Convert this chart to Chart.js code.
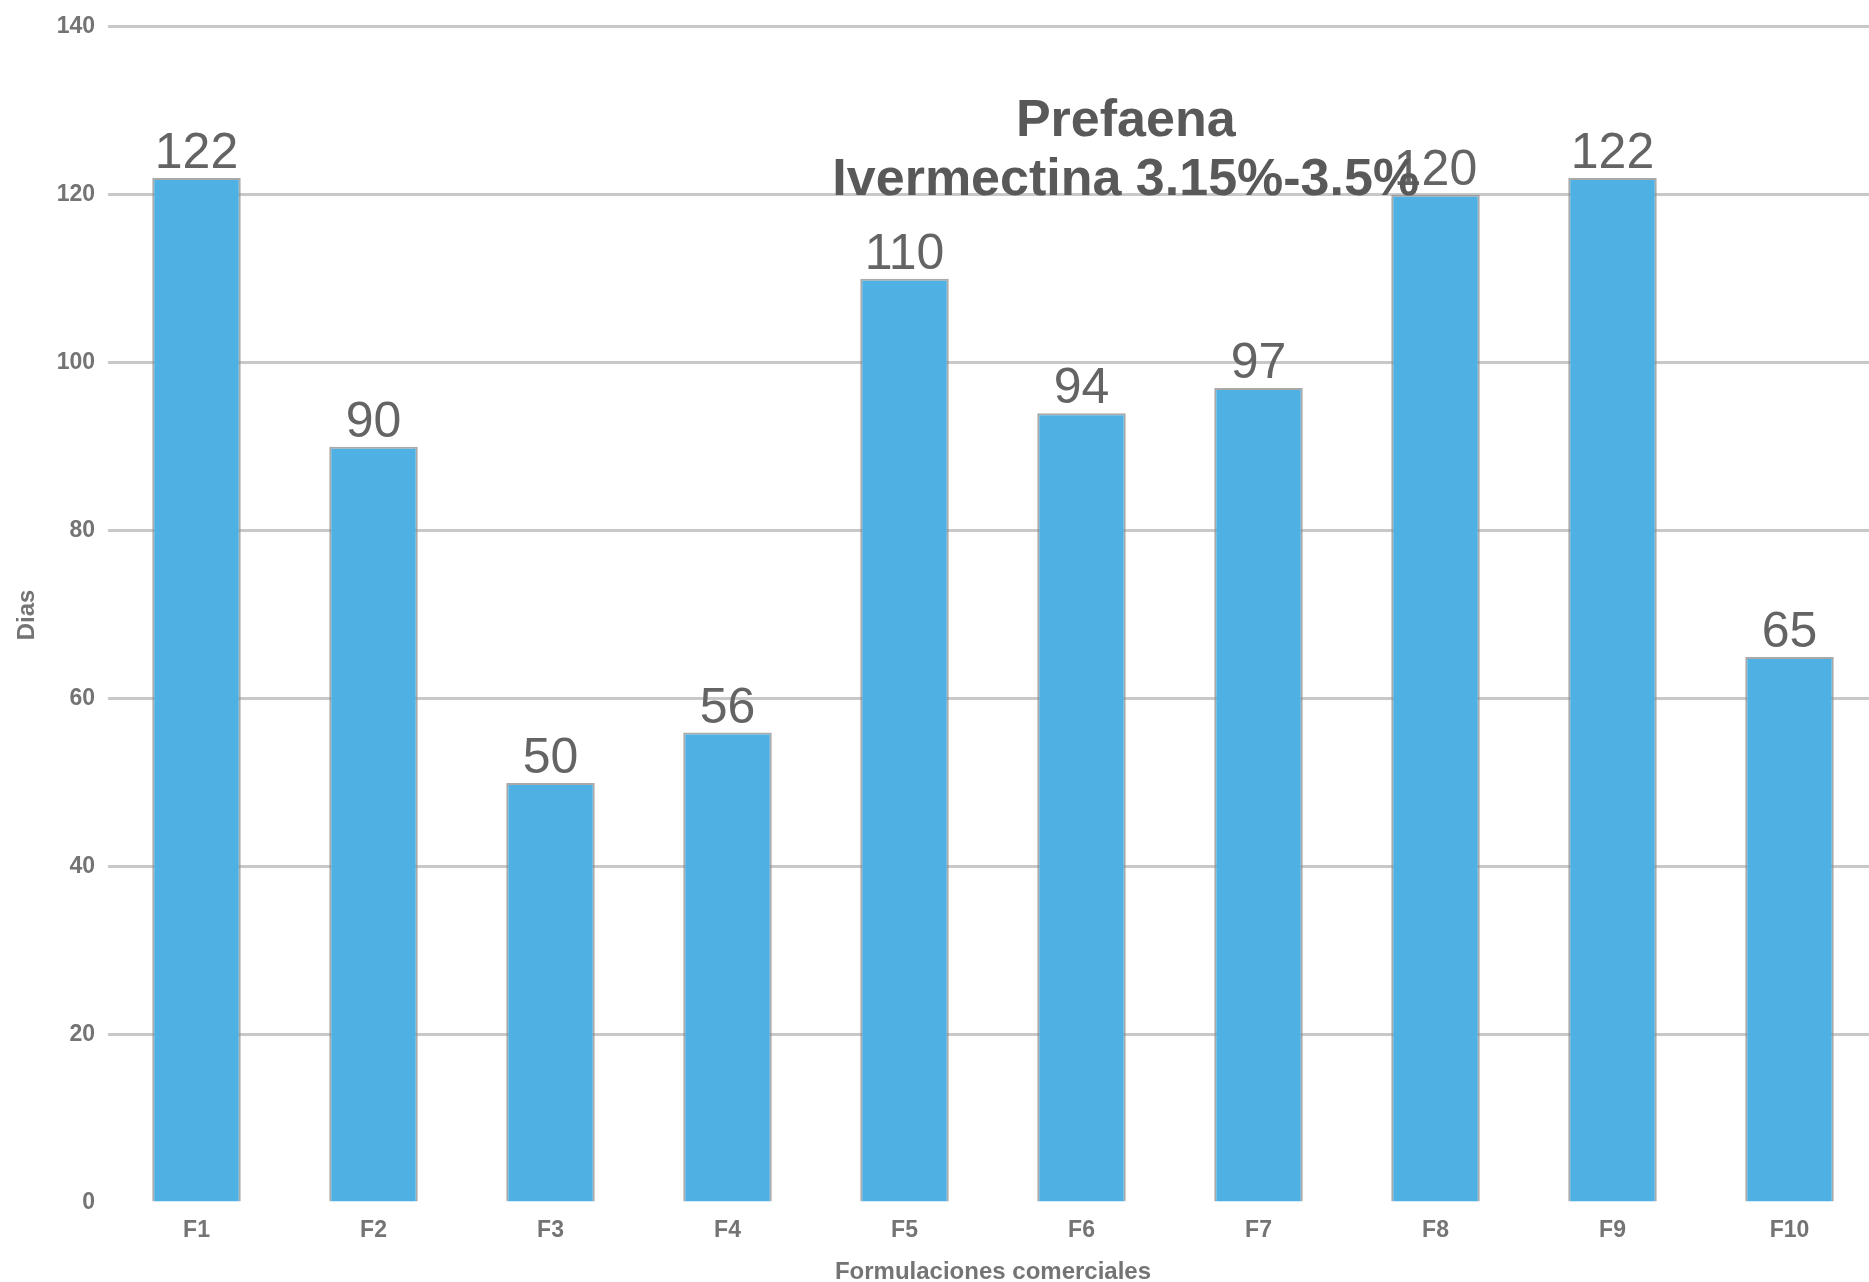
<!DOCTYPE html>
<html>
<head>
<meta charset="utf-8">
<title>Prefaena - Ivermectina</title>
<script src="https://cdn.jsdelivr.net/npm/chart.js@4/dist/chart.umd.min.js"></script>
<style>
  html, body { margin: 0; padding: 0; background: #fff; overflow: hidden; }
  #chart { display: block; }
</style>
</head>
<body>
<canvas id="chart" width="1880" height="1282"></canvas>
<script>
// Dias de retiro por formulacion comercial
const formulaciones = ["F1", "F2", "F3", "F4", "F5", "F6", "F7", "F8", "F9", "F10"];
const dias = [122, 90, 50, 56, 110, 94, 97, 120, 122, 65];
const yTicks = [0, 20, 40, 60, 80, 100, 120, 140];
const titulo = ["Prefaena", "Ivermectina 3.15%-3.5%"];

const FONT = '"Liberation Sans", Arial, sans-serif';

// numbers above each bar
const valueLabels = {
  id: "valueLabels",
  afterDatasetsDraw(chart) {
    const ctx = chart.ctx;
    const meta = chart.getDatasetMeta(0);
    ctx.save();
    ctx.font = "50px " + FONT;
    ctx.fillStyle = "#646464";
    ctx.textAlign = "center";
    ctx.textBaseline = "alphabetic";
    meta.data.forEach((bar, i) => {
      ctx.fillText(String(dias[i]), bar.x, bar.y - 10);
    });
    ctx.restore();
  },
};

// two-line title sitting inside the plot
const innerTitle = {
  id: "innerTitle",
  afterDraw(chart) {
    const { ctx, chartArea } = chart;
    const x = chartArea.left + chartArea.width * 0.575;
    ctx.save();
    ctx.font = "bold 52px " + FONT;
    ctx.fillStyle = "#595959";
    ctx.textAlign = "center";
    ctx.textBaseline = "alphabetic";
    ctx.fillText(titulo[0], x, chartArea.top + 109);
    ctx.fillText(titulo[1], x, chartArea.top + 168);
    ctx.restore();
  },
};

const ctx = document.getElementById("chart").getContext("2d");
new Chart(ctx, {
  type: "bar",
  data: {
    labels: formulaciones,
    datasets: [
      {
        label: "Dias",
        data: dias,
        backgroundColor: "#4fb0e3",
        borderColor: "rgba(140,140,140,0.75)",
        borderWidth: 2,
        barPercentage: 0.5,
        categoryPercentage: 1,
      },
    ],
  },
  options: {
    responsive: false,
    animation: false,
    layout: { padding: { top: 14, right: 2, bottom: -5, left: 0 } },
    plugins: {
      legend: { display: false },
      tooltip: { enabled: false },
    },
    scales: {
      x: {
        afterFit(scale) {
          scale.height = 84;
        },
        grid: { display: false, drawTicks: false },
        border: { display: false },
        ticks: {
          color: "#747474",
          padding: 14,
          font: { family: FONT, size: 23, weight: "bold" },
        },
        title: {
          display: true,
          text: "Formulaciones comerciales",
          color: "#747474",
          padding: { top: 0, bottom: 0 },
          font: { family: FONT, size: 24, weight: "bold" },
        },
      },
      y: {
        min: 0,
        max: 140,
        afterBuildTicks(scale) {
          scale.ticks = yTicks.map((v) => ({ value: v }));
        },
        afterFit(scale) {
          scale.width = 108;
        },
        grid: {
          drawTicks: false,
          lineWidth: 3,
          color: (c) => (c.tick && c.tick.value === 0 ? "rgba(0,0,0,0)" : "#c8c8c8"),
        },
        border: { display: false },
        ticks: {
          color: "#747474",
          padding: 13,
          font: { family: FONT, size: 23, weight: "bold" },
        },
        title: {
          display: true,
          text: "Dias",
          color: "#747474",
          padding: { top: 13, bottom: 0 },
          font: { family: FONT, size: 24, weight: "bold" },
        },
      },
    },
  },
  plugins: [valueLabels, innerTitle],
});
</script>
</body>
</html>
